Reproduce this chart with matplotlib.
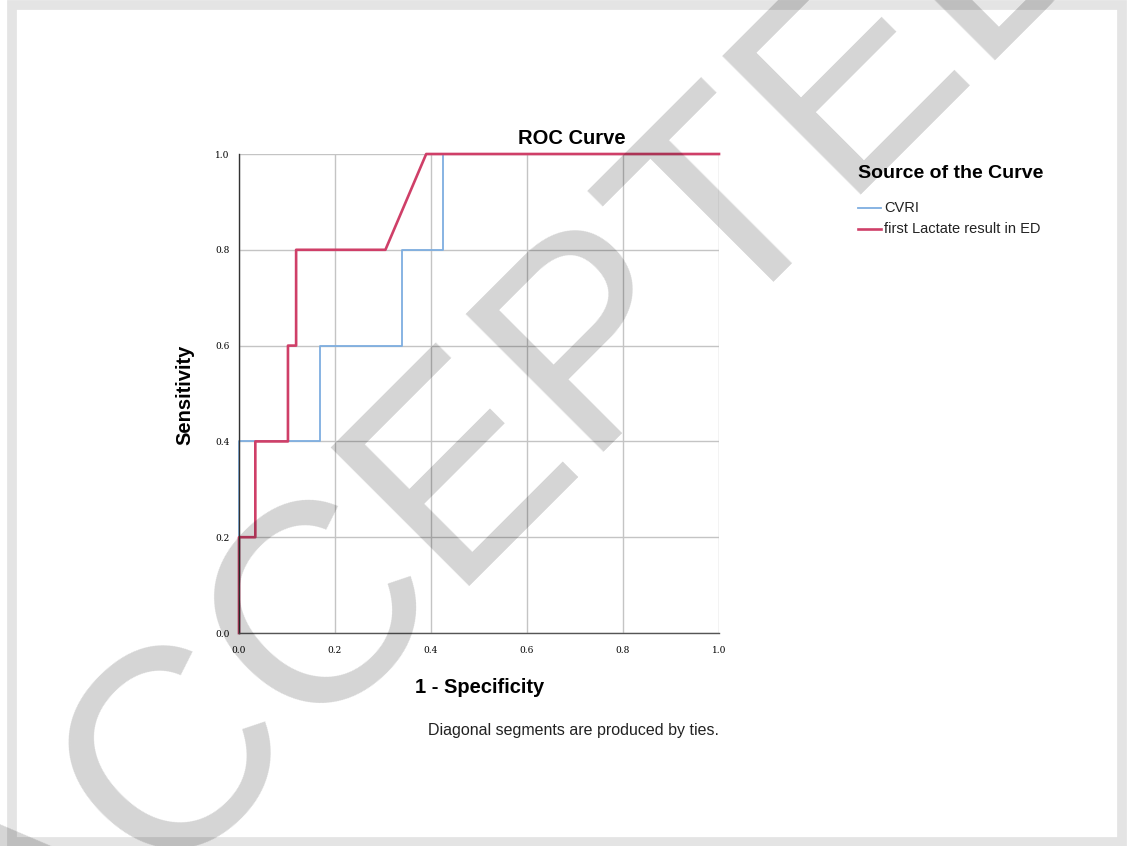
import matplotlib
matplotlib.use("Agg")
import matplotlib.pyplot as plt
from matplotlib.patches import Rectangle

# ROC points (1 - specificity, sensitivity)
cvri_fpr = [0.0, 0.0, 0.169, 0.169, 0.339, 0.339, 0.424, 0.424, 1.0]
cvri_tpr = [0.0, 0.4, 0.4, 0.6, 0.6, 0.8, 0.8, 1.0, 1.0]

lact_fpr = [0.0, 0.0, 0.034, 0.034, 0.102, 0.102, 0.119, 0.119, 0.305, 0.390, 1.0]
lact_tpr = [0.0, 0.2, 0.2, 0.4, 0.4, 0.6, 0.6, 0.8, 0.8, 1.0, 1.0]

series_names = ["CVRI", "first Lactate result in ED"]
series_colors = ["#7eaee0", "#cf3f68"]
ticks = [0.0, 0.2, 0.4, 0.6, 0.8, 1.0]
tick_labels = ["0.0", "0.2", "0.4", "0.6", "0.8", "1.0"]

W, H = 1127, 846
fig = plt.figure(figsize=(W / 100, H / 100), dpi=100)
fig.patch.set_facecolor("white")

# light grey frame round the page
fig.patches.append(Rectangle((12 / W, 4 / H), (W - 17) / W, (H - 9) / H,
                             transform=fig.transFigure, fill=False,
                             edgecolor="#e4e4e4", linewidth=7, zorder=0))

ax = fig.add_axes([239 / W, (H - 633) / H, 480 / W, 479 / H])
ax.set_xlim(0, 1)
ax.set_ylim(0, 1)
ax.grid(True, color="#c4c4c4", linewidth=1.0)
ax.set_axisbelow(True)
for side in ["top", "right"]:
    ax.spines[side].set_visible(False)
ax.spines["left"].set_color("#333333")
ax.spines["bottom"].set_color("#555555")
ax.spines["left"].set_linewidth(1.0)
ax.spines["bottom"].set_linewidth(1.0)

ax.plot(cvri_fpr, cvri_tpr, color=series_colors[0], linewidth=1.3, clip_on=False)
ax.plot(lact_fpr, lact_tpr, color=series_colors[1], linewidth=1.9, clip_on=False)

ax.set_xticks(ticks)
ax.set_yticks(ticks)
ax.set_xticklabels(tick_labels, family="DejaVu Serif", fontsize=6.5)
ax.set_yticklabels(tick_labels, family="DejaVu Serif", fontsize=6.5)
ax.tick_params(axis="x", length=0, pad=9)
ax.tick_params(axis="y", length=0, pad=7)

fig.text(185 / W, 1 - 395 / H, "Sensitivity", rotation=90, ha="center", va="center",
         family="Liberation Sans", fontweight="bold", fontsize=14.5)
fig.text(480 / W, 1 - 687 / H, "1 - Specificity", ha="center", va="center",
         family="Liberation Sans", fontweight="bold", fontsize=14.5)
fig.text(572 / W, 1 - 138 / H, "ROC Curve", ha="center", va="center",
         family="Liberation Sans", fontweight="bold", fontsize=14.5)
fig.text(574 / W, 1 - 730 / H, "Diagonal segments are produced by ties.", ha="center",
         va="center", family="Liberation Sans", fontsize=11.5, color="#222222")

# legend drawn by hand to match the layout
fig.text(858 / W, 1 - 173 / H, "Source of the Curve", ha="left", va="center",
         family="Liberation Sans", fontweight="bold", fontsize=14)
for i, (name, col) in enumerate(zip(series_names, series_colors)):
    y = 1 - (208 + 21 * i) / H
    fig.add_artist(plt.Line2D([858 / W, 881 / W], [y, y], color=col,
                              linewidth=1.3 if i == 0 else 1.9))
    fig.text(884 / W, y, name, ha="left", va="center",
             family="Liberation Sans", fontsize=10.5, color="#222222")

# watermark
fig.text(525 / W, 1 - 427 / H, "ACCEPTED", rotation=45, ha="center", va="center",
         family="Liberation Sans", fontsize=205, color="black", alpha=0.17,
         zorder=10)

fig.savefig("out.png", dpi=100)
